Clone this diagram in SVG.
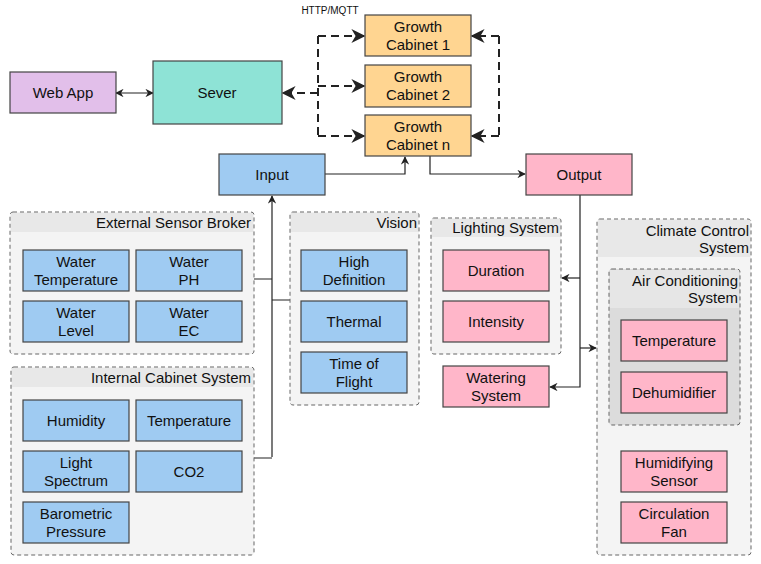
<svg xmlns="http://www.w3.org/2000/svg" width="761" height="564" viewBox="0 0 761 564">
<defs>
<marker id="a" viewBox="0 0 10 10" refX="9" refY="5" markerWidth="7" markerHeight="7" orient="auto-start-reverse"><path d="M0,0 L10,5 L0,10 L3,5 z" fill="#222"/></marker>
<style>
text{font-family:"Liberation Sans",Arial,sans-serif;font-size:15px;fill:#111;text-anchor:middle}
.t{text-anchor:end}
.n{stroke:#444;stroke-width:1.2}
.b{fill:#9fcbf2}.p{fill:#ffb6c9}.o{fill:#ffd591}
.g{fill:#f4f4f4;stroke:#666;stroke-dasharray:4 3;stroke-width:1}
.h{fill:#e8e8e8}
.c{fill:none;stroke:#222;stroke-width:1.2}
.d{fill:none;stroke:#222;stroke-width:2;stroke-dasharray:8 5}
</style>
</defs>
<g id="connectors">
<path class="c" d="M116,93 H153" marker-start="url(#a)" marker-end="url(#a)"/>
<path class="d" d="M318,93 H283" marker-end="url(#a)"/>
<path class="d" d="M318,36 V136"/>
<path class="d" d="M318,36 H364" marker-end="url(#a)"/>
<path class="d" d="M318,86 H364" marker-end="url(#a)"/>
<path class="d" d="M318,136 H364" marker-end="url(#a)"/>
<path class="d" d="M499,36 V136"/>
<path class="d" d="M499,36 H472" marker-end="url(#a)"/>
<path class="d" d="M499,136 H472" marker-end="url(#a)"/>
<path class="c" d="M325,174 H405 V157" marker-end="url(#a)"/>
<path class="c" d="M430,156 V174 H525" marker-end="url(#a)"/>
<path class="c" d="M272,457 V196" marker-end="url(#a)"/>
<path class="c" d="M254,279 H272 M290,300 H272 M254,458 H272"/>
<path class="c" d="M580,195 V387 H550" marker-end="url(#a)"/>
<path class="c" d="M580,278 H562" marker-end="url(#a)"/>
<path class="c" d="M580,348 H596" marker-end="url(#a)"/>
</g>
<text x="330" y="14" style="font-size:10px">HTTP/MQTT</text>
<g id="webapp"><rect class="n" x="10" y="72" width="106" height="41" fill="#e2bfea"/><text x="63" y="98">Web App</text></g>
<g id="sever"><rect class="n" x="153" y="61" width="129" height="63" fill="#8ee3d6"/><text x="217" y="98">Sever</text></g>
<g id="gc1"><rect class="n o" x="365" y="15" width="106" height="41"/><text x="418" y="32">Growth</text><text x="418" y="50">Cabinet 1</text></g>
<g id="gc2"><rect class="n o" x="365" y="65" width="106" height="42"/><text x="418" y="82">Growth</text><text x="418" y="100">Cabinet 2</text></g>
<g id="gcn"><rect class="n o" x="365" y="115" width="106" height="41"/><text x="418" y="132">Growth</text><text x="418" y="150">Cabinet n</text></g>
<g id="input"><rect class="n b" x="219" y="154" width="106" height="41"/><text x="272" y="180">Input</text></g>
<g id="output"><rect class="n p" x="526" y="154" width="106" height="41"/><text x="579" y="180">Output</text></g>

<g id="esb"><rect class="g" x="10" y="212" width="244" height="142" rx="3"/><rect class="h" x="11" y="213" width="242" height="19"/><text class="t" x="251" y="228">External Sensor Broker</text>
<rect class="n b" x="23" y="250" width="106" height="41"/><text x="76" y="267">Water</text><text x="76" y="285">Temperature</text>
<rect class="n b" x="136" y="250" width="106" height="41"/><text x="189" y="267">Water</text><text x="189" y="285">PH</text>
<rect class="n b" x="23" y="301" width="106" height="41"/><text x="76" y="318">Water</text><text x="76" y="336">Level</text>
<rect class="n b" x="136" y="301" width="106" height="41"/><text x="189" y="318">Water</text><text x="189" y="336">EC</text></g>

<g id="ics"><rect class="g" x="11" y="367" width="243" height="188" rx="3"/><rect class="h" x="12" y="368" width="241" height="19"/><text class="t" x="251" y="383">Internal Cabinet System</text>
<rect class="n b" x="23" y="400" width="106" height="41"/><text x="76" y="426">Humidity</text>
<rect class="n b" x="136" y="400" width="106" height="41"/><text x="189" y="426">Temperature</text>
<rect class="n b" x="23" y="451" width="106" height="41"/><text x="76" y="468">Light</text><text x="76" y="486">Spectrum</text>
<rect class="n b" x="136" y="451" width="106" height="41"/><text x="189" y="477">CO2</text>
<rect class="n b" x="23" y="502" width="106" height="41"/><text x="76" y="519">Barometric</text><text x="76" y="537">Pressure</text></g>

<g id="vision"><rect class="g" x="290" y="212" width="129" height="193" rx="3"/><rect class="h" x="291" y="213" width="127" height="19"/><text class="t" x="417" y="228">Vision</text>
<rect class="n b" x="301" y="250" width="106" height="41"/><text x="354" y="267">High</text><text x="354" y="285">Definition</text>
<rect class="n b" x="301" y="301" width="106" height="41"/><text x="354" y="327">Thermal</text>
<rect class="n b" x="301" y="352" width="106" height="41"/><text x="354" y="369">Time of</text><text x="354" y="387">Flight</text></g>

<g id="lighting"><rect class="g" x="431" y="218" width="130" height="136" rx="3"/><rect class="h" x="432" y="219" width="128" height="18"/><text class="t" x="559" y="233">Lighting System</text>
<rect class="n p" x="443" y="250" width="106" height="41"/><text x="496" y="276">Duration</text>
<rect class="n p" x="443" y="301" width="106" height="41"/><text x="496" y="327">Intensity</text></g>

<g id="watering"><rect class="n p" x="443" y="366" width="106" height="41"/><text x="496" y="383">Watering</text><text x="496" y="401">System</text></g>

<g id="climate"><rect class="g" x="597" y="219" width="154" height="336" rx="3"/><rect class="h" x="598" y="220" width="152" height="37"/><text class="t" x="749" y="236">Climate Control</text><text class="t" x="749" y="253">System</text>
<g id="aircon"><rect class="g" x="609" y="269" width="131" height="156" rx="3" style="fill:#dcdcdc"/><rect x="610" y="270" width="129" height="38" fill="#e6e6e6"/><text class="t" x="738" y="286">Air Conditioning</text><text class="t" x="738" y="303">System</text>
<rect class="n p" x="621" y="320" width="106" height="41"/><text x="674" y="346">Temperature</text>
<rect class="n p" x="621" y="372" width="106" height="41"/><text x="674" y="398">Dehumidifier</text></g>
<rect class="n p" x="621" y="451" width="106" height="41"/><text x="674" y="468">Humidifying</text><text x="674" y="486">Sensor</text>
<rect class="n p" x="621" y="502" width="106" height="41"/><text x="674" y="519">Circulation</text><text x="674" y="537">Fan</text></g>
</svg>
